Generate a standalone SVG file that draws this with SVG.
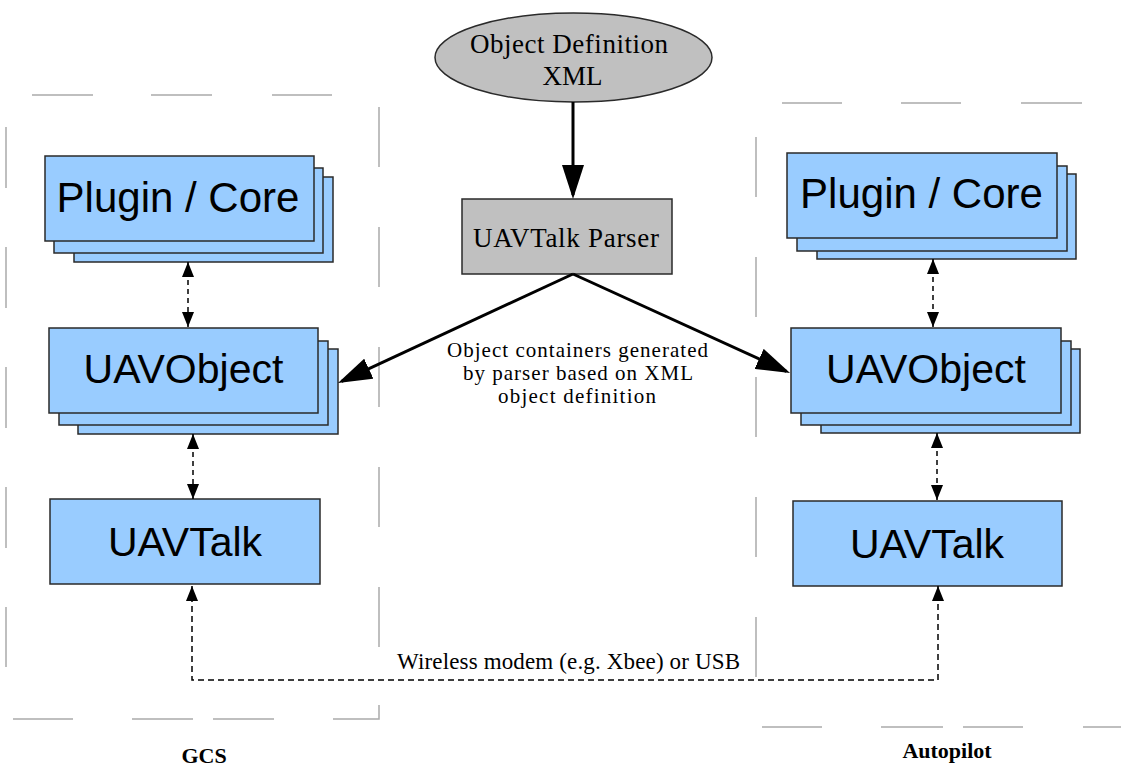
<svg xmlns="http://www.w3.org/2000/svg" width="1121" height="767" viewBox="0 0 1121 767">
<style>
.bg{fill:#ffffff}
.blue{fill:#99ccff;stroke:#2a2a2a;stroke-width:1.5}
.grey{fill:#c0c0c0;stroke:#2a2a2a;stroke-width:1.5}
.bord{stroke:#aaaaaa;stroke-width:1.5;fill:none}
.big{font-family:"Liberation Sans",Arial,sans-serif;font-size:41px;fill:#000;text-anchor:middle}
.ser{font-family:"Liberation Serif","Times New Roman",serif;font-size:27px;fill:#000;text-anchor:middle}
.lbl{font-family:"Liberation Serif","Times New Roman",serif;font-size:21px;fill:#000;text-anchor:middle}
.bold{font-family:"Liberation Serif","Times New Roman",serif;font-size:22px;font-weight:bold;fill:#000;text-anchor:middle}
.thick{stroke:#000;stroke-width:3;fill:none;marker-end:url(#bigHead)}
.dash{stroke:#000;stroke-width:1.5;fill:none;stroke-dasharray:5 4;marker-start:url(#smHead);marker-end:url(#smHead)}
</style>
<defs>
<marker id="bigHead" markerUnits="userSpaceOnUse" markerWidth="34" markerHeight="22" refX="30" refY="11" orient="auto">
<path d="M0,0 L34,11 L0,22 z" fill="#000"/>
</marker>
<marker id="smHead" markerUnits="userSpaceOnUse" markerWidth="15" markerHeight="12" refX="15" refY="6" orient="auto-start-reverse">
<path d="M0,0 L15,6 L0,12 z" fill="#000"/>
</marker>
</defs>
<rect class="bg" x="0" y="0" width="1121" height="767"/>

<g id="gcs-boundary">
<path class="bord" d="M32,95 H93 M151,95 H212 M272,95 H332"/>
<path class="bord" d="M6,127 V188 M6,247 V308 M6,367 V428 M6,487 V548 M6,607 V667"/>
<path class="bord" d="M379,107 V167 M379,227 V287 M379,347 V407 M379,467 V527 M379,587 V647 M379,705 V719 H333 M274,719 H213 M193,719 H132 M73,719 H13"/>
<text class="bold" x="204" y="763">GCS</text>
</g>

<g id="autopilot-boundary">
<path class="bord" d="M782,103 H842 M901,103 H961 M1021,103 H1082"/>
<path class="bord" d="M756,137 V197 M756,257 V317 M756,377 V437 M756,497 V557 M756,617 V677"/>
<path class="bord" d="M762,727 H822 M881,727 H943 M963,727 H1023 M1083,727 H1121"/>
<text class="bold" x="947" y="758">Autopilot</text>
</g>

<g id="object-definition-xml">
<ellipse class="grey" cx="573.5" cy="57.5" rx="138.5" ry="44.5"/>
<text class="ser" x="569" y="53" textLength="198">Object Definition</text>
<text class="ser" x="572.5" y="85">XML</text>
</g>

<g id="uavtalk-parser">
<rect class="grey" x="462" y="199" width="210" height="75"/>
<text class="ser" x="566" y="247" textLength="186">UAVTalk Parser</text>
</g>

<g id="gcs-plugin-core">
<rect class="blue" x="74" y="177" width="259" height="85"/>
<rect class="blue" x="54" y="168" width="269" height="85"/>
<rect class="blue" x="45" y="156" width="269" height="85"/>
<text class="big" x="178" y="212" style="font-size:42px">Plugin / Core</text>
</g>

<g id="gcs-uavobject">
<rect class="blue" x="78" y="349" width="260" height="85"/>
<rect class="blue" x="59" y="341" width="269" height="84"/>
<rect class="blue" x="49" y="328" width="269" height="85"/>
<text class="big" x="183.5" y="383">UAVObject</text>
</g>

<g id="gcs-uavtalk">
<rect class="blue" x="50" y="499" width="270" height="85"/>
<text class="big" x="185" y="556">UAVTalk</text>
</g>

<g id="ap-plugin-core">
<rect class="blue" x="817" y="174" width="259" height="85"/>
<rect class="blue" x="797" y="166" width="270" height="85"/>
<rect class="blue" x="787" y="153" width="270" height="85"/>
<text class="big" x="921.5" y="208" style="font-size:42px">Plugin / Core</text>
</g>

<g id="ap-uavobject">
<rect class="blue" x="821" y="349" width="259" height="84"/>
<rect class="blue" x="801" y="341" width="270" height="84"/>
<rect class="blue" x="791" y="328" width="270" height="85"/>
<text class="big" x="926" y="383">UAVObject</text>
</g>

<g id="ap-uavtalk">
<rect class="blue" x="793" y="501" width="269" height="85"/>
<text class="big" x="927" y="558">UAVTalk</text>
</g>

<g id="connectors">
<line class="thick" x1="573" y1="102" x2="573" y2="195"/>
<line class="thick" x1="573" y1="274" x2="341.6" y2="381.3"/>
<line class="thick" x1="573" y1="274" x2="786.4" y2="371.3"/>
<line class="dash" x1="188" y1="262" x2="188" y2="327"/>
<line class="dash" x1="193" y1="434" x2="193" y2="499"/>
<line class="dash" x1="933" y1="259" x2="933" y2="327"/>
<line class="dash" x1="937" y1="433" x2="937" y2="500"/>
<path class="dash" d="M192,586 V680 H938 V586" style="stroke-dasharray:6 4"/>
<text class="lbl" x="568.5" y="669" style="font-size:23px" textLength="343">Wireless modem (e.g. Xbee) or USB</text>
<text class="lbl" x="577.5" y="357" textLength="261">Object containers generated</text>
<text class="lbl" x="578" y="380" textLength="230">by parser based on XML</text>
<text class="lbl" x="577" y="403" textLength="158">object definition</text>
</g>
</svg>
